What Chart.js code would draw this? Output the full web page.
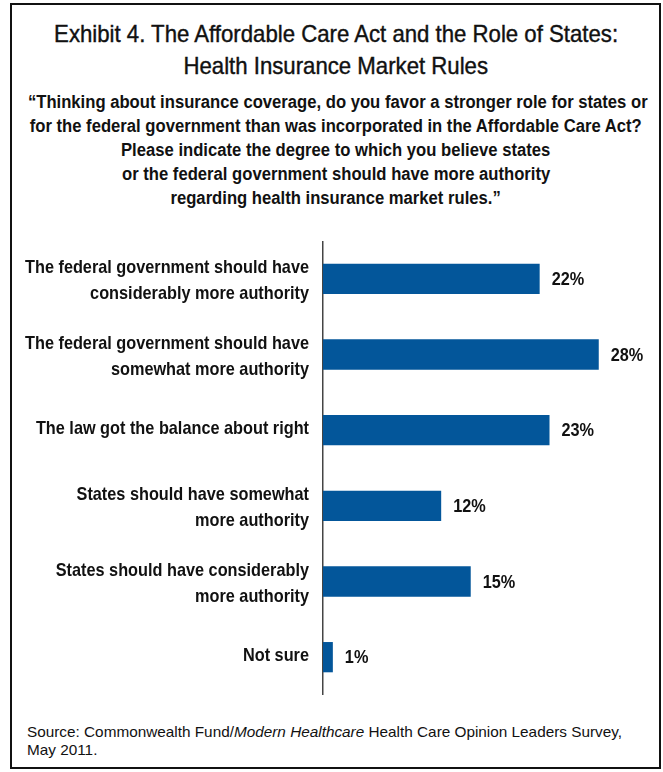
<!DOCTYPE html>
<html>
<head>
<meta charset="utf-8">
<script src="https://cdn.jsdelivr.net/npm/chart.js@4"></script>
<style>
  html, body { margin: 0; padding: 0; background: #fff; }
  body { width: 663px; height: 772px; position: relative; overflow: hidden; }
  #frame { position: absolute; left: 10px; top: 3px; width: 647px; height: 762px; border: 2.5px solid #111; }
  .blk { position: absolute; left: 12px; width: 648px; text-align: center; color: #111; font-family: "Liberation Sans", Arial, sans-serif; white-space: nowrap; }
  .blk span { display: inline-block; transform-origin: 50% 50%; }
  #t1 { top: 18px; font-size: 24px; line-height: 32px; font-weight: normal; -webkit-text-stroke: 0.4px #111; }
  #t2 { top: 90px; font-size: 17.5px; line-height: 24px; font-weight: bold; }
  #src { position: absolute; left: 27px; top: 723px; font-family: "Liberation Sans", Arial, sans-serif; font-size: 15px; line-height: 18px; color: #111; white-space: nowrap; }
  #src span { display: inline-block; transform-origin: 0 50%; }
  #wrap { position: absolute; left: 10px; top: 241px; width: 638px; height: 454px; }
</style>
</head>
<body>
<div id="frame"></div>
<div class="blk" id="t1"><span>Exhibit 4. The Affordable Care Act and the Role of States:</span><br><span>Health Insurance Market Rules</span></div>
<div class="blk" id="t2"><span>“Thinking about insurance coverage, do you favor a stronger role for states or</span><br><span>for the federal government than was incorporated in the Affordable Care Act?</span><br><span>Please indicate the degree to which you believe states</span><br><span>or the federal government should have more authority</span><br><span>regarding health insurance market rules.”</span></div>
<div id="wrap"><canvas id="c"></canvas></div>
<div id="src"><span>Source: Commonwealth Fund/<i>Modern Healthcare</i> Health Care Opinion Leaders Survey,</span><br><span>May 2011.</span></div>
<script>
const categories = [
  ["The federal government should have", "considerably more authority"],
  ["The federal government should have", "somewhat more authority"],
  ["The law got the balance about right"],
  ["States should have somewhat", "more authority"],
  ["States should have considerably", "more authority"],
  ["Not sure"]
];
const values = [22, 28, 23, 12, 15, 1];
const valueLabels = ["22%", "28%", "23%", "12%", "15%", "1%"];

// horizontal condensing of text blocks to imitate the condensed gothic face
function condense(id, refIndex, target) {
  const spans = document.querySelectorAll('#' + id + ' span');
  const w = spans[refIndex].getBoundingClientRect().width;
  const f = target / w;
  spans.forEach(s => { s.style.transform = 'scaleX(' + f + ')'; });
}
condense('t1', 0, 564);
condense('t2', 1, 612);
condense('src', 0, 595);

const FONT = '"Liberation Sans", Arial, sans-serif';
const LABEL_FONT = 'bold 18.5px ' + FONT;

const labelPlugin = {
  id: 'labelsAndValues',
  afterDatasetsDraw(chart) {
    const ctx = chart.ctx;
    const yScale = chart.scales.y;
    const meta = chart.getDatasetMeta(0);
    ctx.save();
    ctx.font = LABEL_FONT;
    const f = 284 / ctx.measureText(categories[0][0]).width;
    ctx.fillStyle = '#111';
    ctx.textBaseline = 'middle';
    const rightX = yScale.right - 14;
    categories.forEach((lines, i) => {
      const cy = yScale.getPixelForValue(i);
      const offs = lines.length === 2 ? [-10.5, 15] : [-1];
      lines.forEach((ln, j) => {
        ctx.save();
        ctx.translate(rightX, cy + offs[j]);
        ctx.scale(f, 1);
        ctx.textAlign = 'right';
        ctx.fillText(ln, 0, 0);
        ctx.restore();
      });
    });
    meta.data.forEach((bar, i) => {
      ctx.save();
      ctx.translate(bar.x + 12, bar.y + 1);
      ctx.scale(f, 1);
      ctx.textAlign = 'left';
      ctx.fillText(valueLabels[i], 0, 0);
      ctx.restore();
    });
    ctx.restore();
  }
};

new Chart(document.getElementById('c'), {
  type: 'bar',
  data: {
    labels: categories.map(l => l.join(' ')),
    datasets: [{
      data: values,
      backgroundColor: '#03569A',
      borderWidth: 0,
      categoryPercentage: 1.0,
      barPercentage: 0.4
    }]
  },
  options: {
    indexAxis: 'y',
    responsive: true,
    maintainAspectRatio: false,
    animation: false,
    layout: { padding: 0 },
    plugins: { legend: { display: false }, tooltip: { enabled: false } },
    scales: {
      x: { display: false, min: 0, max: 33 },
      y: {
        grid: { display: false, drawTicks: false },
        border: { display: true, color: '#444', width: 1.5 },
        ticks: { display: false },
        afterFit(axis) { axis.width = 313; }
      }
    }
  },
  plugins: [labelPlugin]
});
</script>
</body>
</html>
